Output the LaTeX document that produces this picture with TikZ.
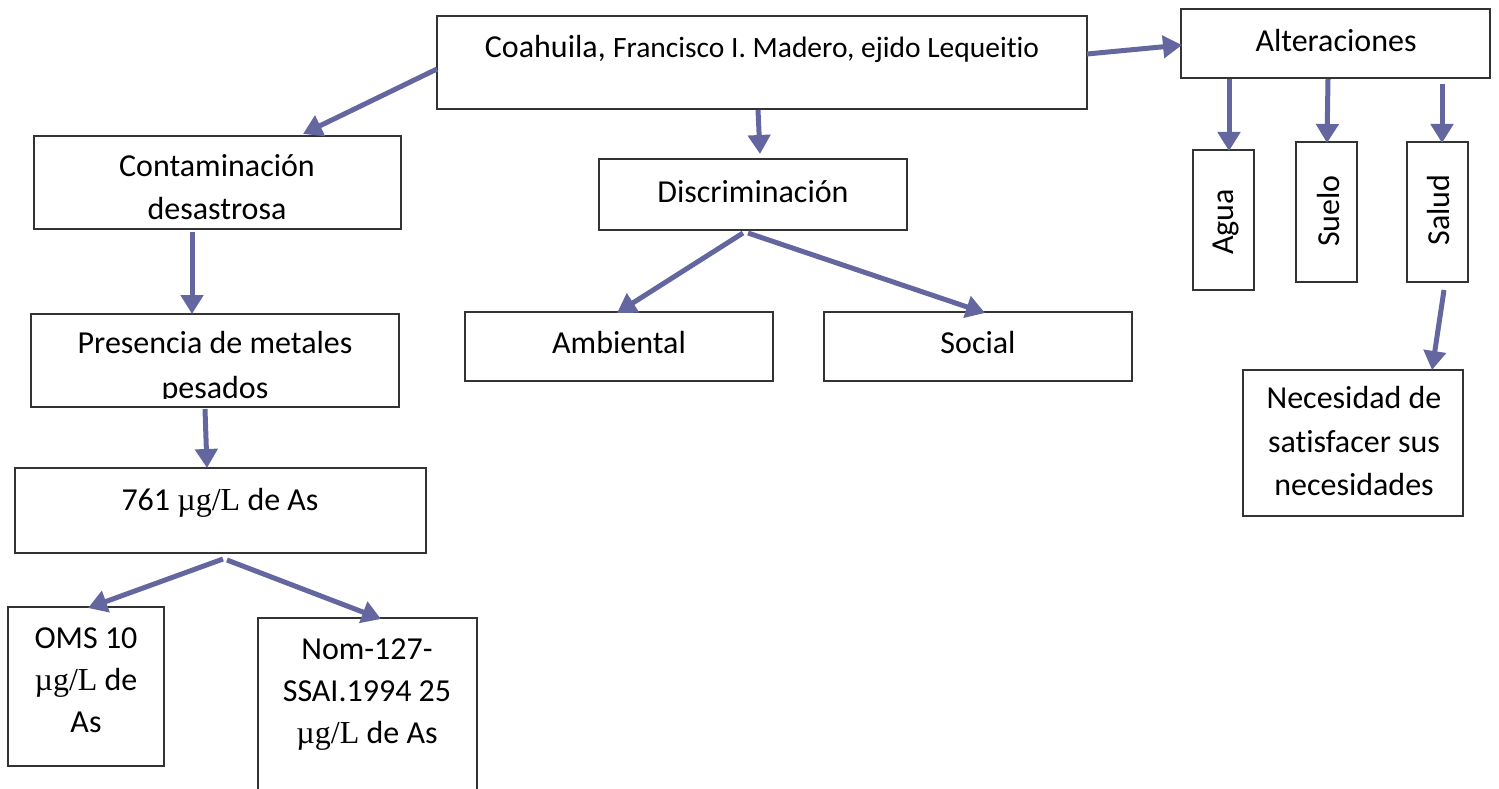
\documentclass[tikz,border=0pt]{standalone}
\usepackage{fontspec}
\setmainfont{Carlito}[Ligatures=NoCommon]
\newfontfamily\serf{Liberation Serif}
\usetikzlibrary{arrows.meta}
\definecolor{arrcol}{HTML}{6466A0}
\definecolor{boxcol}{HTML}{333333}
\newcommand\ugl{{\serf µg/L}}
\tikzset{
  box/.style={draw=boxcol, line width=1.5pt, fill=white, inner sep=0pt, outer sep=0pt},
  txt/.style={inner sep=0pt, outer sep=0pt, anchor=base, font=\fontsize{32}{40}\selectfont},
  vtxt/.style={inner sep=0pt, outer sep=0pt, rotate=90, font=\fontsize{32}{40}\selectfont},
  arr/.style={draw=arrcol, line width=5pt, -{Triangle[length=19pt,width=22pt]}, shorten >=0pt},
}
\begin{document}
\begin{tikzpicture}[x=1pt,y=-1pt]
\useasboundingbox (0,0) rectangle (1499,789);
\clip (0,0) rectangle (1499,789);
% boxes
\node[box, minimum width=650pt, minimum height=93pt] (coah) at (762,62.5) {};
\node[box, minimum width=309pt, minimum height=69pt] (alt) at (1335.5,43.5) {};
\node[box, minimum width=367pt, minimum height=93pt] (cont) at (217.5,182.5) {};
\node[box, minimum width=308pt, minimum height=71pt] (disc) at (753,194.5) {};
\node[box, minimum width=308pt, minimum height=69pt] (amb) at (619,346.5) {};
\node[box, minimum width=308pt, minimum height=69pt] (soc) at (978,346.5) {};
\node[box, minimum width=61pt, minimum height=140pt] (agua) at (1223.5,220) {};
\node[box, minimum width=61pt, minimum height=140pt] (suelo) at (1326.5,212) {};
\node[box, minimum width=61pt, minimum height=140pt] (salud) at (1437.5,212) {};
\node[box, minimum width=220pt, minimum height=146pt] (nec) at (1353,443) {};
\node[box, minimum width=368pt, minimum height=93pt] (pres) at (215,360.5) {};
\node[box, minimum width=411pt, minimum height=85pt] (n761) at (220.5,510.5) {};
\node[box, minimum width=156pt, minimum height=159pt] (oms) at (86,686.5) {};
\node[box, minimum width=219pt, minimum height=190pt] (nom) at (367.5,713) {};
% texts
\node[txt] (tcoah) at (762,58) {Coahuila, {\fontsize{29.5}{34}\selectfont Francisco I. Madero, ejido Lequeitio}};
\node[txt] (talt) at (1336,52) {Alteraciones};
\node[txt] (tcont1) at (217,176) {Contaminación};
\node[txt] (tcont2) at (217,219) {desastrosa};
\node[txt] (tdisc) at (753,202) {Discriminación};
\node[txt] (tamb) at (619,353) {Ambiental};
\node[txt] (tsoc) at (978,353) {Social};
\node[txt] (tpres1) at (215,353) {Presencia de metales};
\begin{scope}
\clip (30,360) rectangle (400,398);
\node[txt] (tpres2) at (215,398) {pesados};
\end{scope}
\node[txt] (t761) at (220,510) {761 \ugl{} de As};
\node[txt] (tnec1) at (1354,408) {Necesidad de};
\node[txt] (tnec2) at (1354,452) {satisfacer sus};
\node[txt] (tnec3) at (1354,495) {necesidades};
\node[txt] (toms1) at (86,648) {OMS 10};
\node[txt] (toms2) at (86,690) {\ugl{} de};
\node[txt] (toms3) at (86,732) {As};
\node[txt] (tnom1) at (367,659) {Nom-127-};
\node[txt] (tnom2) at (367,701) {SSAI.1994 25};
\node[txt] (tnom3) at (367,743) {\ugl{} de As};
\node[vtxt] (tagua) at (1226,222) {Agua};
\node[vtxt] (tsuelo) at (1328,211) {Suelo};
\node[vtxt] (tsalud) at (1438,210) {Salud};
% connector end points
\coordinate (c1a) at (437,69);   \coordinate (c1b) at (303,134);
\coordinate (c2a) at (758,110);  \coordinate (c2b) at (760,154);
\coordinate (c3a) at (1087,54);  \coordinate (c3b) at (1182,45);
\coordinate (a1a) at (1229,79);  \coordinate (a1b) at (1229,151);
\coordinate (a2a) at (1328,79);  \coordinate (a2b) at (1327,143);
\coordinate (a3a) at (1442,84);  \coordinate (a3b) at (1442,143);
\coordinate (s1a) at (1444,290); \coordinate (s1b) at (1432,370);
\coordinate (k1a) at (192,232);  \coordinate (k1b) at (192,314);
\coordinate (p1a) at (205,409);  \coordinate (p1b) at (207,468);
\coordinate (d1a) at (743,233);  \coordinate (d1b) at (617,313);
\coordinate (d2a) at (748,233);  \coordinate (d2b) at (985,313);
\coordinate (m1a) at (223,559);  \coordinate (m1b) at (88,608);
\coordinate (m2a) at (227,560);  \coordinate (m2b) at (381,619);
% connectors
\draw[arr] (c1a) -- (c1b);
\draw[arr] (c2a) -- (c2b);
\draw[arr] (c3a) -- (c3b);
\draw[arr] (a1a) -- (a1b);
\draw[arr] (a2a) -- (a2b);
\draw[arr] (a3a) -- (a3b);
\draw[arr] (s1a) -- (s1b);
\draw[arr] (k1a) -- (k1b);
\draw[arr] (p1a) -- (p1b);
\draw[arr] (d1a) -- (d1b);
\draw[arr] (d2a) -- (d2b);
\draw[arr] (m1a) -- (m1b);
\draw[arr] (m2a) -- (m2b);
\end{tikzpicture}
\end{document}
